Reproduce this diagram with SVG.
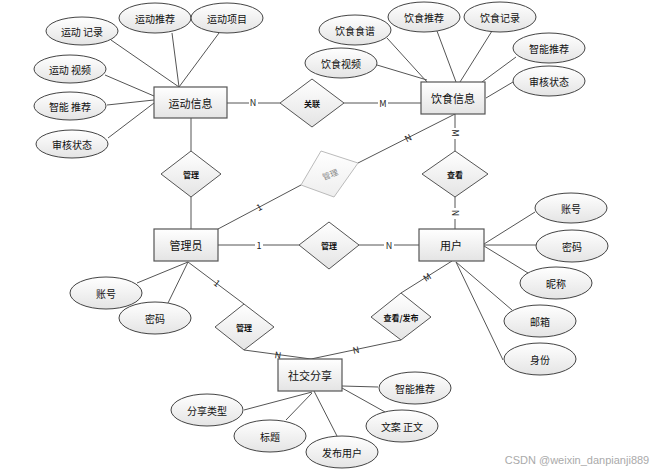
<svg xmlns="http://www.w3.org/2000/svg" width="668" height="474" viewBox="0 0 668 474">
<defs>
<linearGradient id="g" x1="0" y1="0" x2="0" y2="1"><stop offset="0" stop-color="#ffffff"/><stop offset="1" stop-color="#e4e4e4"/></linearGradient>
<linearGradient id="gf" x1="0" y1="0" x2="0" y2="1"><stop offset="0" stop-color="#ffffff"/><stop offset="1" stop-color="#eeeeee"/></linearGradient>
</defs>
<style>
text{font-family:"Noto Sans CJK SC","Liberation Sans",sans-serif;fill:#111;text-anchor:middle;dominant-baseline:central}
.e{fill:url(#g);stroke:#444;stroke-width:1}
.r{fill:url(#g);stroke:#555;stroke-width:1.2}
.d{fill:url(#g);stroke:#555;stroke-width:1}
.df{fill:url(#gf);stroke:#bbb;stroke-width:1}
.l{stroke:#555;stroke-width:1;fill:none}
.lt{font-size:11px}
.et{font-size:10px}
.dt{font-size:8px;font-weight:bold}
.c{font-size:9px;fill:#222}
.bg{fill:#fff}
</style>
<rect width="668" height="474" fill="#fff"/>
<g id="connectors">
<line class="l" x1="111" y1="40" x2="179" y2="87"/>
<line class="l" x1="172" y1="33" x2="179" y2="87"/>
<line class="l" x1="219" y1="33" x2="179" y2="87"/>
<line class="l" x1="105" y1="75" x2="154" y2="96"/>
<line class="l" x1="107" y1="105" x2="154" y2="100"/>
<line class="l" x1="108" y1="138" x2="154" y2="103"/>
<line class="l" x1="227" y1="103" x2="280" y2="103"/>
<line class="l" x1="344" y1="103" x2="421" y2="103"/>
<line class="l" x1="387" y1="38" x2="427" y2="82"/>
<line class="l" x1="437" y1="31" x2="456" y2="82"/>
<line class="l" x1="492" y1="31" x2="460" y2="82"/>
<line class="l" x1="377" y1="65" x2="427" y2="80"/>
<line class="l" x1="516" y1="57" x2="482" y2="82"/>
<line class="l" x1="513" y1="82" x2="486" y2="98"/>
<line class="l" x1="455" y1="114" x2="455" y2="151"/>
<line class="l" x1="455" y1="114" x2="358" y2="163"/>
<line class="l" x1="455" y1="197" x2="455" y2="229"/>
<line class="l" x1="191" y1="118" x2="191" y2="151"/>
<line class="l" x1="191" y1="197" x2="191" y2="229"/>
<line class="l" x1="218" y1="229" x2="301" y2="185"/>
<line class="l" x1="218" y1="245" x2="299" y2="245"/>
<line class="l" x1="359" y1="245" x2="419" y2="245"/>
<line class="l" x1="484" y1="244" x2="535" y2="212"/>
<line class="l" x1="484" y1="245" x2="537" y2="245"/>
<line class="l" x1="484" y1="246" x2="528" y2="273"/>
<line class="l" x1="456" y1="262" x2="512" y2="310"/>
<line class="l" x1="456" y1="262" x2="503" y2="360"/>
<line class="l" x1="188" y1="262" x2="137" y2="283"/>
<line class="l" x1="188" y1="262" x2="168" y2="303"/>
<line class="l" x1="188" y1="262" x2="244" y2="304"/>
<line class="l" x1="244" y1="350" x2="311" y2="359"/>
<line class="l" x1="401" y1="340" x2="311" y2="359"/>
<line class="l" x1="401" y1="293" x2="452" y2="261"/>
<line class="l" x1="342" y1="386" x2="378" y2="387"/>
<line class="l" x1="342" y1="388" x2="385" y2="412"/>
<line class="l" x1="314" y1="391" x2="337" y2="436"/>
<line class="l" x1="312" y1="393" x2="286" y2="420"/>
<line class="l" x1="312" y1="392" x2="244" y2="410"/>
<rect class="bg" x="249" y="97" width="9" height="11"/>
<text class="c" x="253" y="102">N</text>
<rect class="bg" x="378" y="97" width="10" height="11"/>
<text class="c" x="383" y="103">M</text>
<rect class="bg" x="450" y="128" width="10" height="11"/>
<text class="c" x="455" y="133" transform="rotate(90 455 133)">M</text>
<text class="c" x="408" y="138" transform="rotate(-27 408 138)">N</text>
<rect class="bg" x="451" y="208" width="9" height="11"/>
<text class="c" x="455" y="213" transform="rotate(90 455 213)">N</text>
<text class="c" x="259" y="207" transform="rotate(-28 259 207)">1</text>
<rect class="bg" x="255" y="239" width="8" height="11"/>
<text class="c" x="259" y="245">1</text>
<rect class="bg" x="384" y="239" width="10" height="11"/>
<text class="c" x="389" y="245">N</text>
<text class="c" x="217" y="283" transform="rotate(37 217 283)">1</text>
<text class="c" x="278" y="355" transform="rotate(8 278 355)">N</text>
<text class="c" x="356" y="350" transform="rotate(-12 356 350)">N</text>
<text class="c" x="427" y="277" transform="rotate(-32 427 277)">M</text>
</g>
<g id="n-yundong"><rect class="r" x="154" y="87" width="73" height="31"/><text class="lt" x="190.5" y="103">运动信息</text></g>
<g id="a-yd-jilu"><ellipse class="e" cx="82" cy="31" rx="36" ry="14"/><text class="et" x="82" y="31">运动 记录</text></g>
<g id="a-yd-tuijian"><ellipse class="e" cx="155" cy="18" rx="36" ry="15"/><text class="et" x="155" y="18">运动推荐</text></g>
<g id="a-yd-xiangmu"><ellipse class="e" cx="227" cy="18" rx="36" ry="15"/><text class="et" x="227" y="18">运动项目</text></g>
<g id="a-yd-shipin"><ellipse class="e" cx="70" cy="69" rx="36" ry="14"/><text class="et" x="70" y="69">运动 视频</text></g>
<g id="a-yd-zhineng"><ellipse class="e" cx="70" cy="106" rx="36" ry="14"/><text class="et" x="70" y="106">智能 推荐</text></g>
<g id="a-yd-shenhe"><ellipse class="e" cx="72" cy="144" rx="36" ry="14"/><text class="et" x="72" y="144">审核状态</text></g>
<g id="r-guanlian"><polygon class="d" points="312,79 344,103 312,127 280,103"/><text class="dt" x="312" y="103">关联</text></g>
<g id="n-yinshi"><rect class="r" x="421" y="82" width="64" height="32"/><text class="lt" x="453" y="98">饮食信息</text></g>
<g id="a-ys-shipu"><ellipse class="e" cx="355" cy="30" rx="36" ry="15"/><text class="et" x="355" y="30">饮食食谱</text></g>
<g id="a-ys-tuijian"><ellipse class="e" cx="424" cy="17" rx="36" ry="15"/><text class="et" x="424" y="17">饮食推荐</text></g>
<g id="a-ys-jilu"><ellipse class="e" cx="500" cy="17" rx="36" ry="15"/><text class="et" x="500" y="17">饮食记录</text></g>
<g id="a-ys-shipin"><ellipse class="e" cx="341" cy="63" rx="36" ry="15"/><text class="et" x="341" y="63">饮食视频</text></g>
<g id="a-ys-zhineng"><ellipse class="e" cx="549" cy="48" rx="36" ry="15"/><text class="et" x="549" y="48">智能推荐</text></g>
<g id="a-ys-shenhe"><ellipse class="e" cx="549" cy="81" rx="36" ry="15"/><text class="et" x="549" y="81">审核状态</text></g>
<g id="r-guanli-faded"><polygon class="df" points="321,151 358,163 334,197 301,185"/><text class="dt" x="330" y="174" fill="#999" style="fill:#888;font-weight:normal" transform="rotate(-21 330 174)">管理</text></g>
<g id="r-chakan"><polygon class="d" points="455,151 488,174 455,197 422,174"/><text class="dt" x="455" y="174">查看</text></g>
<g id="r-guanli-top"><polygon class="d" points="191,151 221,174 191,197 161,174"/><text class="dt" x="191" y="174">管理</text></g>
<g id="n-admin"><rect class="r" x="154" y="229" width="64" height="32"/><text class="lt" x="186" y="245">管理员</text></g>
<g id="r-guanli-mid"><polygon class="d" points="329,222 359,245 329,269 299,245"/><text class="dt" x="329" y="245">管理</text></g>
<g id="n-user"><rect class="r" x="419" y="229" width="65" height="32"/><text class="lt" x="451" y="245">用户</text></g>
<g id="a-u-zhanghao"><ellipse class="e" cx="571" cy="208" rx="36" ry="15"/><text class="et" x="571" y="208">账号</text></g>
<g id="a-u-mima"><ellipse class="e" cx="572" cy="246" rx="36" ry="16"/><text class="et" x="572" y="246">密码</text></g>
<g id="a-u-nicheng"><ellipse class="e" cx="556" cy="283" rx="36" ry="16"/><text class="et" x="556" y="283">昵称</text></g>
<g id="a-u-youxiang"><ellipse class="e" cx="540" cy="321" rx="36" ry="16"/><text class="et" x="540" y="321">邮箱</text></g>
<g id="a-u-shenfen"><ellipse class="e" cx="540" cy="359" rx="36" ry="16"/><text class="et" x="540" y="359">身份</text></g>
<g id="a-ad-zhanghao"><ellipse class="e" cx="106" cy="293" rx="36" ry="16"/><text class="et" x="106" y="293">账号</text></g>
<g id="a-ad-mima"><ellipse class="e" cx="155" cy="318" rx="36" ry="16"/><text class="et" x="155" y="318">密码</text></g>
<g id="r-guanli-low"><polygon class="d" points="244,304 274,327 244,350 215,327"/><text class="dt" x="244" y="327">管理</text></g>
<g id="r-chakan-fabu"><polygon class="d" points="401,293 431,317 401,340 371,317"/><text class="dt" x="401" y="317">查看/发布</text></g>
<g id="n-social"><rect class="r" x="278" y="359" width="64" height="32"/><text class="lt" x="310" y="375">社交分享</text></g>
<g id="a-s-zhineng"><ellipse class="e" cx="415" cy="388" rx="36" ry="16"/><text class="et" x="415" y="388">智能推荐</text></g>
<g id="a-s-wenan"><ellipse class="e" cx="402" cy="426" rx="36" ry="16"/><text class="et" x="402" y="426">文案 正文</text></g>
<g id="a-s-fabu"><ellipse class="e" cx="342" cy="452" rx="36" ry="16"/><text class="et" x="342" y="452">发布用户</text></g>
<g id="a-s-biaoti"><ellipse class="e" cx="270" cy="436" rx="36" ry="16"/><text class="et" x="270" y="436">标题</text></g>
<g id="a-s-leixing"><ellipse class="e" cx="207" cy="410" rx="36" ry="16"/><text class="et" x="207" y="410">分享类型</text></g>
<text x="577" y="460" style="font-family:'Liberation Sans',sans-serif;font-size:11px;fill:#aaa">CSDN @weixin_danpianji889</text>
</svg>
